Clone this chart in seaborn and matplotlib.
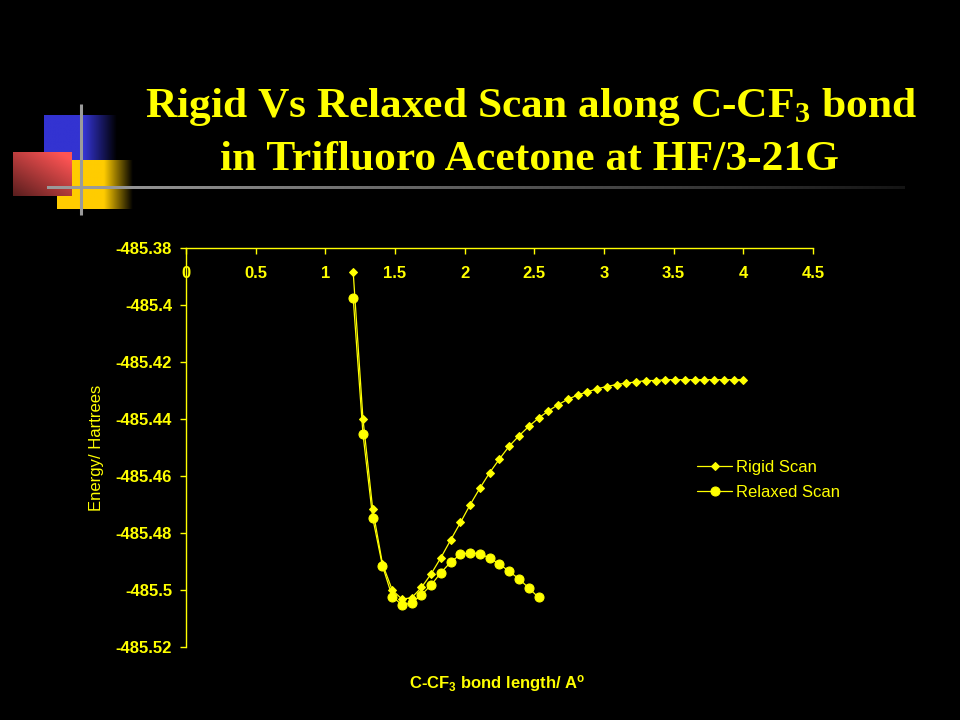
import numpy as np
import matplotlib
matplotlib.use("Agg")
import matplotlib.pyplot as plt
import seaborn as sns

# ── data ─────────────────────────────────────────────────────
bond_rigid = [1.20, 1.27, 1.34, 1.41, 1.48, 1.55, 1.62, 1.69, 1.76, 1.83,
              1.90, 1.97, 2.04, 2.11, 2.18, 2.25, 2.32, 2.39, 2.46, 2.53,
              2.60, 2.67, 2.74, 2.81, 2.88, 2.95, 3.02, 3.09, 3.16, 3.23,
              3.30, 3.37, 3.44, 3.51, 3.58, 3.65, 3.72, 3.79, 3.86, 3.93,
              4.00]
energy_rigid = [-485.3885, -485.4399, -485.4716, -485.4908, -485.5000,
                -485.5032, -485.5027, -485.4991, -485.4943, -485.4886,
                -485.4824, -485.4763, -485.4700, -485.4642, -485.4588,
                -485.4540, -485.4495, -485.4459, -485.4426, -485.4397,
                -485.4372, -485.4350, -485.4331, -485.4316, -485.4305,
                -485.4294, -485.4286, -485.4279, -485.4274, -485.4270,
                -485.4265, -485.4265, -485.4262, -485.4262, -485.4262,
                -485.4262, -485.4262, -485.4262, -485.4262, -485.4262,
                -485.4262]

bond_relaxed = [1.20, 1.27, 1.34, 1.41, 1.48, 1.55, 1.62, 1.69, 1.76, 1.83,
                1.90, 1.97, 2.04, 2.11, 2.18, 2.25, 2.32, 2.39, 2.46, 2.53]
energy_relaxed = [-485.3976, -485.4452, -485.4747, -485.4915, -485.5023,
                  -485.5052, -485.5046, -485.5017, -485.4982, -485.4939,
                  -485.4902, -485.4875, -485.4869, -485.4873, -485.4888,
                  -485.4909, -485.4935, -485.4961, -485.4993, -485.5026]

x_ticks = [0, 0.5, 1, 1.5, 2, 2.5, 3, 3.5, 4, 4.5]
x_tick_labels = ["0", "0.5", "1", "1.5", "2", "2.5", "3", "3.5", "4", "4.5"]
y_ticks = [-485.38, -485.40, -485.42, -485.44, -485.46, -485.48, -485.50, -485.52]
y_tick_labels = ["-485.38", "-485.4", "-485.42", "-485.44", "-485.46",
                 "-485.48", "-485.5", "-485.52"]

YELLOW = "#FFFF00"

sns.set_theme(style="dark")
plt.rcParams["font.family"] = ["Liberation Sans", "DejaVu Sans"]
plt.rcParams["axes.facecolor"] = "black"
plt.rcParams["figure.facecolor"] = "black"

fig = plt.figure(figsize=(9.6, 7.2), dpi=100)

# ── slide decoration (pixel coordinates) ─────────────────────
deco = fig.add_axes([0, 0, 1, 1], zorder=0)
deco.set_xlim(0, 960)
deco.set_ylim(720, 0)
deco.axis("off")


def hfade(color, solid_frac, n=200):
    t = np.linspace(0, 1, n)
    a = np.clip((1 - t) / (1 - solid_frac), 0, 1)
    a = np.where(t < solid_frac, 1.0, a)
    img = np.ones((2, n, 3)) * np.array(color)[None, None, :]
    return img * a[None, :, None]


deco.imshow(hfade((0.20, 0.20, 0.82), 0.55), extent=(44, 117, 160, 115),
            aspect="auto", interpolation="bilinear")
deco.imshow(hfade((1.0, 0.80, 0.0), 0.62), extent=(57, 133, 209, 160),
            aspect="auto", interpolation="bilinear")
# red square, lighter at top right, darker at bottom left
yy, xx = np.mgrid[0:50, 0:60]
shade = 0.35 + 0.65 * np.clip((xx / 59) * 0.5 + (1 - yy / 49) * 0.6, 0, 1)
red = np.stack([1.0 * shade, 0.33 * shade, 0.33 * shade], axis=-1)
deco.imshow(red, extent=(13, 72, 196, 152), aspect="auto",
            interpolation="bilinear")
deco.plot([81, 81], [104, 215], color="#9a9a9a", lw=2.2,
          solid_capstyle="butt")
hline = hfade((0.62, 0.62, 0.62), 0.05)
hline = np.clip(hline * 0.85 + 0.08, 0, 1)
deco.imshow(hline, extent=(47, 905, 189.5, 186.5), aspect="auto",
            interpolation="bilinear")
deco.set_xlim(0, 960)
deco.set_ylim(720, 0)

# ── title ────────────────────────────────────────────────────
fig.text(531 / 960, 1 - 117 / 720,
         r"Rigid Vs Relaxed Scan along C-CF$\mathregular{_3}$ bond",
         ha="center", va="baseline", fontsize=31.3, fontweight="bold",
         color=YELLOW, family="Liberation Serif")
fig.text(530 / 960, 1 - 170 / 720, "in Trifluoro Acetone at HF/3-21G",
         ha="center", va="baseline", fontsize=31.3, fontweight="bold",
         color=YELLOW, family="Liberation Serif")

# ── chart ────────────────────────────────────────────────────
ax = fig.add_axes([186 / 960, 1 - 647 / 720, 627 / 960, 399 / 720], zorder=2)
ax.set_facecolor("none")

sns.lineplot(x=bond_rigid, y=energy_rigid, ax=ax, color=YELLOW, lw=0.9,
             marker="D", markersize=4.2, markeredgecolor=YELLOW,
             label="Rigid Scan")
sns.lineplot(x=bond_relaxed, y=energy_relaxed, ax=ax, color=YELLOW, lw=0.9,
             marker="o", markersize=6.5, markeredgecolor=YELLOW,
             label="Relaxed Scan")

ax.set_xlim(0, 4.5)
ax.set_ylim(-485.52, -485.38)
ax.grid(False)

ax.spines["right"].set_visible(False)
ax.spines["top"].set_visible(False)
ax.spines["bottom"].set_position(("axes", 1.0))
for side in ["left", "bottom"]:
    ax.spines[side].set_color(YELLOW)
    ax.spines[side].set_linewidth(1.0)

ax.set_xticks(x_ticks)
ax.set_xticklabels(x_tick_labels)
ax.set_yticks(y_ticks)
ax.set_yticklabels(y_tick_labels)
ax.tick_params(axis="x", direction="out", length=4, width=1, color=YELLOW,
               pad=9, labelsize=12, labelcolor=YELLOW, bottom=True)
ax.tick_params(axis="y", direction="out", length=4, width=1, color=YELLOW,
               pad=6, labelsize=12, labelcolor=YELLOW, left=True)
for lbl in ax.get_xticklabels() + ax.get_yticklabels():
    lbl.set_fontweight("bold")

ax.set_xlabel(r"C-CF$\mathregular{_3}$ bond length/ A$\mathregular{^o}$",
              fontsize=12, fontweight="bold", color=YELLOW)
ax.xaxis.set_label_coords(0.497, -0.066)
ax.set_ylabel("Energy/ Hartrees", fontsize=12, color=YELLOW)
ax.yaxis.set_label_coords(-0.13, 0.5)

leg = ax.legend(loc="upper left", bbox_to_anchor=(697 / 960, 1 - 460 / 720),
                bbox_transform=fig.transFigure, frameon=False, fontsize=12,
                borderpad=0, borderaxespad=0, handlelength=2.1,
                handletextpad=0.25, labelspacing=0.6)
for txt in leg.get_texts():
    txt.set_color(YELLOW)

fig.savefig("out.png", dpi=100, facecolor="black")
